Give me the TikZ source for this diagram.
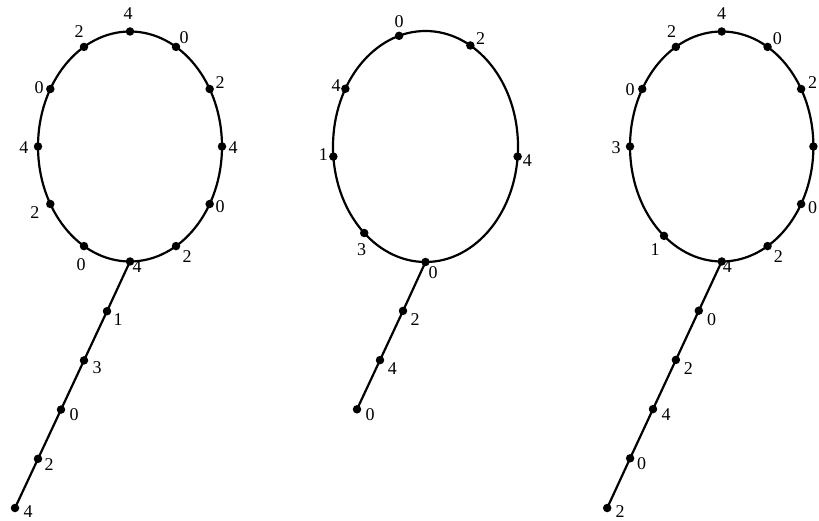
\documentclass[tikz,border=0pt]{standalone}
\usepackage{fontspec}
\setmainfont{Liberation Serif}
\begin{document}
\begin{tikzpicture}[x=1pt,y=1pt,
  dot/.style={circle,fill=black,inner sep=0pt,minimum size=8.5pt},
  lbl/.style={inner sep=0pt,font=\fontsize{18}{18}\selectfont},
  curve/.style={line width=2.2pt}]
\useasboundingbox (0,0) rectangle (819,520);
% ---------- graph 1 ----------
\begin{scope}[shift={(130,373.5)}]
\draw[curve] (0,0) ellipse [x radius=92, y radius=115];
\node[dot] (a1) at (90:92 and 115) {};
\node[dot] (a2) at (60:92 and 115) {};
\node[dot] (a3) at (30:92 and 115) {};
\node[dot] (a4) at (0:92 and 115) {};
\node[dot] (a5) at (-30:92 and 115) {};
\node[dot] (a6) at (-60:92 and 115) {};
\node[dot] (a7) at (-90:92 and 115) {};
\node[dot] (a8) at (-120:92 and 115) {};
\node[dot] (a9) at (-150:92 and 115) {};
\node[dot] (a10) at (180:92 and 115) {};
\node[dot] (a11) at (150:92 and 115) {};
\node[dot] (a12) at (120:92 and 115) {};
\end{scope}
\node[dot] (at1) at (107,208.8) {};
\node[dot] (at2) at (84,159.6) {};
\node[dot] (at3) at (61,110.4) {};
\node[dot] (at4) at (38,61.2) {};
\node[dot] (at5) at (15,12) {};
\draw[curve] (a7.center) -- (at1.center) -- (at2.center) -- (at3.center) -- (at4.center) -- (at5.center);
\node[lbl] (la1) at (128,506) {4};
\node[lbl] (la2) at (184,482) {0};
\node[lbl] (la3) at (220,437) {2};
\node[lbl] (la4) at (233,372) {4};
\node[lbl] (la5) at (220,313) {0};
\node[lbl] (la6) at (187,263) {2};
\node[lbl] (la7) at (137,253) {4};
\node[lbl] (la8) at (81,255) {0};
\node[lbl] (la9) at (35,307) {2};
\node[lbl] (la10) at (24,372) {4};
\node[lbl] (la11) at (39,432) {0};
\node[lbl] (la12) at (79,488) {2};
\node[lbl] (lat1) at (118,200) {1};
\node[lbl] (lat2) at (97,152) {3};
\node[lbl] (lat3) at (74,105) {0};
\node[lbl] (lat4) at (49,55) {2};
\node[lbl] (lat5) at (28,8.5) {4};
% ---------- graph 2 ----------
\begin{scope}[shift={(425.5,373.5)}]
\draw[curve] (0,0) ellipse [x radius=92.5, y radius=115.5];
\node[dot] (b1) at (106.6:92.5 and 115.5) {};
\node[dot] (b2) at (61:92.5 and 115.5) {};
\node[dot] (b3) at (150:92.5 and 115.5) {};
\node[dot] (b4) at (185:92.5 and 115.5) {};
\node[dot] (b5) at (-5:92.5 and 115.5) {};
\node[dot] (b6) at (228.5:92.5 and 115.5) {};
\node[dot] (b7) at (270:92.5 and 115.5) {};
\end{scope}
\node[dot] (bt1) at (403,209.1) {};
\node[dot] (bt2) at (380,159.9) {};
\node[dot] (bt3) at (357,110.7) {};
\draw[curve] (b7.center) -- (bt1.center) -- (bt2.center) -- (bt3.center);
\node[lbl] (lb1) at (399,498.3) {0};
\node[lbl] (lb2) at (480.7,481.7) {2};
\node[lbl] (lb3) at (336,434.3) {4};
\node[lbl] (lb4) at (323.3,365) {1};
\node[lbl] (lb5) at (527.3,359.3) {4};
\node[lbl] (lb6) at (361.7,270) {3};
\node[lbl] (lb7) at (433,247.7) {0};
\node[lbl] (lbt1) at (415,200) {2};
\node[lbl] (lbt2) at (392.3,151.7) {4};
\node[lbl] (lbt3) at (370,105) {0};
% ---------- graph 3 ----------
\begin{scope}[shift={(721.7,373.5)}]
\draw[curve] (0,0) ellipse [x radius=91.7, y radius=115];
\node[dot] (c1) at (90:91.7 and 115) {};
\node[dot] (c2) at (60:91.7 and 115) {};
\node[dot] (c3) at (30:91.7 and 115) {};
\node[dot] (c4) at (0:91.7 and 115) {};
\node[dot] (c5) at (-30:91.7 and 115) {};
\node[dot] (c6) at (-60:91.7 and 115) {};
\node[dot] (c7) at (-90:91.7 and 115) {};
\node[dot] (c8) at (231:91.7 and 115) {};
\node[dot] (c9) at (180:91.7 and 115) {};
\node[dot] (c10) at (150:91.7 and 115) {};
\node[dot] (c11) at (120:91.7 and 115) {};
\end{scope}
\node[dot] (ct1) at (698.8,209.3) {};
\node[dot] (ct2) at (675.9,160.1) {};
\node[dot] (ct3) at (653,110.9) {};
\node[dot] (ct4) at (630.1,61.7) {};
\node[dot] (ct5) at (607.2,12) {};
\draw[curve] (c7.center) -- (ct1.center) -- (ct2.center) -- (ct3.center) -- (ct4.center) -- (ct5.center);
\node[lbl] (lc1) at (721.7,506) {4};
\node[lbl] (lc2) at (777.3,481.7) {0};
\node[lbl] (lc3) at (812.7,437.3) {2};
\node[lbl] (lc5) at (812.7,312.7) {0};
\node[lbl] (lc6) at (778.3,263.3) {2};
\node[lbl] (lc7) at (727.3,253.3) {4};
\node[lbl] (lc8) at (655,270.7) {1};
\node[lbl] (lc9) at (616,372.3) {3};
\node[lbl] (lc10) at (630,430.7) {0};
\node[lbl] (lc11) at (671.7,488.3) {2};
\node[lbl] (lct1) at (711.7,200) {0};
\node[lbl] (lct2) at (688.3,151.7) {2};
\node[lbl] (lct3) at (666,105) {4};
\node[lbl] (lct4) at (641.7,56.7) {0};
\node[lbl] (lct5) at (620,8.5) {2};
\end{tikzpicture}
\end{document}
